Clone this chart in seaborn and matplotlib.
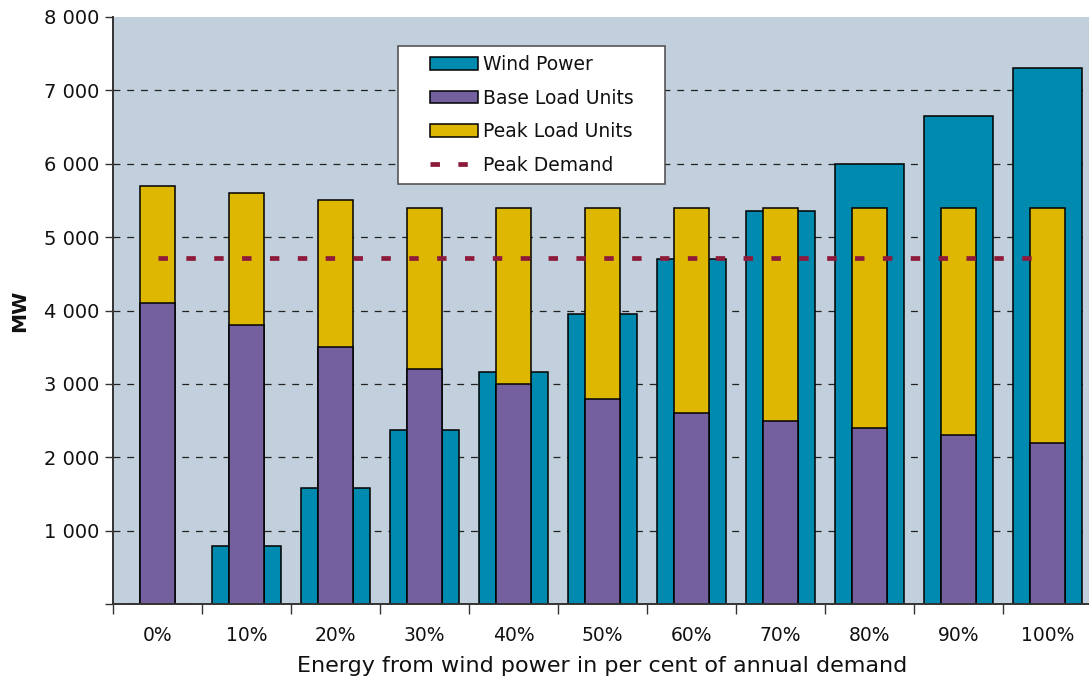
import numpy as np
import pandas as pd
import matplotlib
matplotlib.use("Agg")
import matplotlib.pyplot as plt
import seaborn as sns
from matplotlib.patches import Patch, Rectangle
from matplotlib.lines import Line2D
from matplotlib.ticker import FuncFormatter

# Installed capacity needed at each wind-energy share (MW)
categories = ["0%", "10%", "20%", "30%", "40%", "50%", "60%", "70%", "80%", "90%", "100%"]
wind_power = [0, 790, 1580, 2370, 3160, 3950, 4700, 5350, 6000, 6650, 7300]
base_load = [4100, 3800, 3500, 3200, 3000, 2800, 2600, 2500, 2400, 2300, 2200]
peak_load = [1600, 1800, 2000, 2200, 2400, 2600, 2800, 2900, 3000, 3100, 3200]
peak_demand = 4720
y_ticks = [0, 1000, 2000, 3000, 4000, 5000, 6000, 7000, 8000]

BG = "#C1D0DC"
WIND = "#008AAF"
PURPLE = "#74609E"
YELLOW = "#DEB700"
DEMAND = "#8E1A3B"

df = pd.DataFrame({"share": categories, "wind": wind_power,
                   "base": base_load, "peak": peak_load})
df["total"] = df["base"] + df["peak"]

sns.set_style("white")
plt.rcParams["font.family"] = ["DejaVu Sans"]

W, H = 1089, 684
fig = plt.figure(figsize=(W / 100, H / 100), dpi=100)
ax = fig.add_axes([113 / W, 80 / H, 979 / W, 587 / H])
ax.set_facecolor(BG)

bar_kw = dict(order=categories, saturation=1, edgecolor="black",
              linewidth=1.1, errorbar=None, ax=ax, zorder=2)
sns.barplot(data=df, x="share", y="wind", color=WIND, width=0.77, **bar_kw)
sns.barplot(data=df, x="share", y="total", color=YELLOW, width=0.40, **bar_kw)
sns.barplot(data=df, x="share", y="base", color=PURPLE, width=0.40, **bar_kw)

# peak demand reference line across category centres
ax.hlines(peak_demand, 0, len(categories) - 1, color=DEMAND, lw=3.4,
          linestyles=[(0, (2.0, 3.9))], zorder=3)

ax.set_xlim(-0.5, len(categories) - 0.5)
ax.set_ylim(y_ticks[0], y_ticks[-1])

# axes, grid, ticks
ax.set_axisbelow(True)
ax.set_yticks(y_ticks)
ax.yaxis.set_major_formatter(FuncFormatter(
    lambda v, _: "" if v == 0 else f"{int(v):,}".replace(",", " ")))
for level in y_ticks[1:-1]:
    ax.axhline(level, ls=(0, (5.5, 5.5)), color="#222222", lw=0.9, zorder=1)
ax.set_xticks(range(len(categories)))
ax.set_xticklabels(categories)
ax.set_xticks(np.arange(-0.5, len(categories), 1.0), minor=True)
ax.tick_params(axis="x", which="major", length=0, pad=16, labelsize=13.5,
               labelcolor="#111111")
ax.tick_params(axis="x", which="minor", length=7, width=1.0, color="#333333",
               direction="out", bottom=True)
ax.tick_params(axis="y", length=6, width=1.0, color="#333333", direction="out",
               left=True, pad=4, labelsize=14, labelcolor="#111111")

for side in ("top", "right"):
    ax.spines[side].set_visible(False)
for side in ("left", "bottom"):
    ax.spines[side].set_color("#333333")
    ax.spines[side].set_linewidth(1.4)

ax.set_xlabel("Energy from wind power in per cent of annual demand",
              fontsize=16, color="#111111")
ax.xaxis.set_label_coords(0.5, -0.088)
ax.set_ylabel("MW", fontsize=14.5, fontweight="bold", color="#111111")
ax.yaxis.set_label_coords(-0.086, 0.5)

# legend box and entries
box = Rectangle((398 / W, 1 - 184 / H), (665 - 398) / W, (184 - 46) / H,
                transform=fig.transFigure, facecolor="white",
                edgecolor="#555555", lw=1.2, zorder=4.5, clip_on=False)
ax.add_artist(box)

handles = [
    Patch(facecolor=WIND, edgecolor="black", lw=1.1),
    Patch(facecolor=PURPLE, edgecolor="black", lw=1.1),
    Patch(facecolor=YELLOW, edgecolor="black", lw=1.1),
    Line2D([], [], color=DEMAND, lw=3.4, ls=(0, (2.0, 3.9))),
]
labels = ["Wind Power", "Base Load Units", "Peak Load Units", "Peak Demand"]
leg = ax.legend(handles, labels, loc="upper left",
                bbox_to_anchor=(430 / W, 1 - 55 / H),
                bbox_transform=fig.transFigure, frameon=False, borderpad=0,
                borderaxespad=0, fontsize=13.5, handlelength=2.56,
                handleheight=0.65, handletextpad=0.25, labelspacing=0.78)
leg.set_zorder(5)
for t in leg.get_texts():
    t.set_color("#111111")

fig.savefig("out.png", dpi=100)
